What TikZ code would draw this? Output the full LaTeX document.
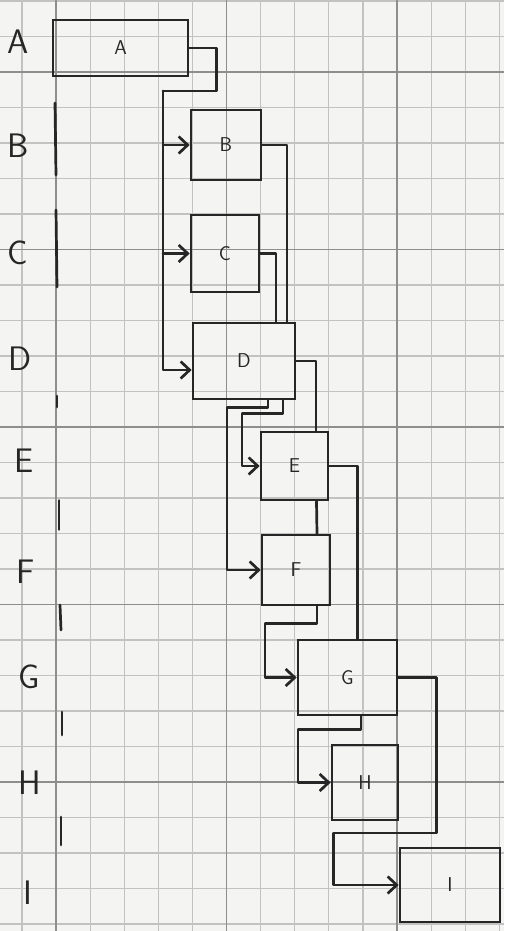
\documentclass[tikz,border=0pt]{standalone}
\usetikzlibrary{arrows.meta}
\definecolor{PGPaper}{HTML}{F4F4F3}
\definecolor{PGGrid}{HTML}{C2C2C2}
\definecolor{PGGridDark}{HTML}{8E8E8E}
\definecolor{PGInk}{HTML}{262626}
\tikzset{
  pen/.style={PGInk,line width=2.7pt,line join=round,line cap=round},
  wire/.style={pen},
  flow/.style={pen,-{Straight Barb[length=9pt,width=17pt]}},
  task/.style={draw=PGInk,line width=2.7pt,inner sep=0pt,text=PGInk,
               font=\sffamily\fontsize{20}{24}\selectfont},
  rowlabel/.style={text=PGInk,font=\sffamily\fontsize{34}{40}\selectfont},
  gridline/.style={PGGrid,line width=1.2pt},
  gridmajor/.style={PGGridDark,line width=1.5pt},
}

\begin{document}
\begin{tikzpicture}[x=1pt,y=-1pt]
    \fill[PGPaper] (0,0) rectangle (504,931);
    \useasboundingbox (0,0) rectangle (504,931);
    \foreach \k in {-1,...,13}{
      \draw[gridline] ({56+34.1*\k},0) -- ({56+34.1*\k},931);
    }
    \foreach \j in {-2,...,24}{
      \draw[gridline] (0,{72+35.5*\j}) -- (504,{72+35.5*\j});
    }
    \foreach \k in {0,5,10}{
      \draw[gridmajor] ({56+34.1*\k},0) -- ({56+34.1*\k},931);
    }
    \foreach \j in {0,5,...,20}{
      \draw[gridmajor] (0,{72+35.5*\j}) -- (504,{72+35.5*\j});
    }

    \node[rowlabel] (lA) at (18,42) {A};
    \node[rowlabel] (lB) at (18,146) {B};
    \node[rowlabel] (lC) at (18,253) {C};
    \node[rowlabel] (lD) at (20,359) {D};
    \node[rowlabel] (lE) at (24,461) {E};
    \node[rowlabel] (lF) at (26,572) {F};
    \node[rowlabel] (lG) at (29,677) {G};
    \node[rowlabel] (lH) at (30,783) {H};
    \node[rowlabel] (lI) at (28,893) {I};

    \foreach \xa/\ya/\xb/\yb in {55/103/56/175,56/210/57/287,57/396/57/407,
        60/605/61/630,62/712/62/735,61/817/61/845}{
      \draw[pen] (\xa,\ya) -- (\xb,\yb);
    }
    \draw[pen,line width=1.3pt] (59,500) -- (59,530);

    \node[task,minimum width=135pt,minimum height=56pt] (A) at (120.5,48) {A};
    \node[task,minimum width=70pt,minimum height=70pt] (B) at (226,145) {B};
    \node[task,minimum width=68pt,minimum height=77pt] (C) at (225,253.5) {C};
    \node[task,minimum width=102pt,minimum height=76pt] (D) at (244,361) {D};
    \node[task,minimum width=67pt,minimum height=68pt] (E) at (294.5,466) {E};
    \node[task,minimum width=68pt,minimum height=70pt] (F) at (296,570) {F};
    \node[task,minimum width=99pt,minimum height=75pt] (G) at (347.5,677.5) {G};
    \node[task,minimum width=66pt,minimum height=75pt] (H) at (365,782.5) {H};
    \node[task,minimum width=100pt,minimum height=74pt] (I) at (450,885) {I};

    \coordinate (bus) at (163,91);
    \draw[wire] (A.east) -- ++(27,0) |- (bus);
    \draw[flow] (bus) |- ([yshift=-9pt]D.west);
    \draw[flow] (bus |- B.west) -- (B.west);
    \draw[flow] (bus |- C.west) -- (C.west);

    \draw[wire] (B.east) -| ([xshift=43pt]D.north);
    \draw[wire] (C.east) -| ([xshift=32pt]D.north);

    \draw[wire] (D.east) -| ([xshift=21.5pt]E.north);
    \draw[flow] ([xshift=39pt]D.south) -- ++(0,13) -- ++(-41,0) |- (E.west);
    \draw[flow] ([xshift=24pt]D.south) -- ++(0,7) -- ++(-41,0) |- (F.west);

    \draw[wire] ([xshift=22pt]E.south) -- ([xshift=21pt]F.north);
    \draw[wire] (E.east) -| ([xshift=10pt]G.north);

    \draw[flow] ([xshift=21pt]F.south) -- ++(0,17) -- ++(-52,0) |- (G.west);

    \draw[flow] ([xshift=13.5pt]G.south) -- ++(0,13) -- ++(-63,0) |- (H.west);
    \draw[flow] (G.east) -- ++(38,0) -- ++(0,155.5) -- ++(-103,0) |- (I.west);
  \end{tikzpicture}
\end{document}
